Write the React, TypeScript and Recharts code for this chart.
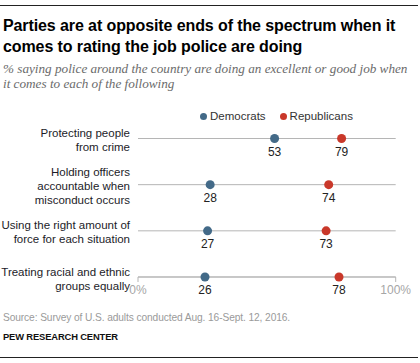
import { ScatterChart, Scatter, XAxis, YAxis, CartesianGrid, Legend } from "recharts";

const categories: string[][] = [
  ["Protecting people", "from crime"],
  ["Holding officers", "accountable when", "misconduct occurs"],
  ["Using the right amount of", "force for each situation"],
  ["Treating racial and ethnic", "groups equally"],
];
const democrats = [53, 28, 27, 26];
const republicans = [79, 74, 73, 78];
const xTicks = [0, 100];

const DEM_COLOR = "#436a88";
const REP_COLOR = "#c9382a";
const SANS = "'Liberation Sans', Arial, sans-serif";

const demData = democrats.map((value, row) => ({ row, value }));
const repData = republicans.map((value, row) => ({ row, value }));

function Dot(props: any) {
  const { cx, cy, fill, payload } = props;
  return (
    <g>
      <circle cx={cx} cy={cy} r={4.5} fill={fill} />
      <text x={cx} y={cy + 17} textAnchor="middle" fontSize={12} fill="#222" fontFamily={SANS}>
        {payload.value}
      </text>
    </g>
  );
}

function CategoryTick(props: any) {
  const { y, payload } = props;
  const lines = categories[payload.value] ?? [];
  const first = y - (lines.length - 1) * 7 + 5.5;
  return (
    <text x={130} y={first} textAnchor="end" fontSize={11.5} fill="#1c1c28" fontFamily={SANS}>
      {lines.map((l, i) => (
        <tspan key={i} x={130} y={first + i * 14}>
          {l}
        </tspan>
      ))}
    </text>
  );
}

function LegendContent(props: any) {
  const items = props.payload ?? [];
  return (
    <div style={{ display: "flex", fontFamily: SANS, fontSize: 11.5, color: "#333", lineHeight: "14px" }}>
      {items.map((it: any, i: number) => (
        <div key={i} style={{ display: "flex", alignItems: "center", marginRight: 14 }}>
          <span
            style={{ width: 7, height: 7, borderRadius: "50%", background: it.color, display: "inline-block", marginRight: 3 }}
          />
          {it.value}
        </div>
      ))}
    </div>
  );
}

export default function App() {
  return (
    <div style={{ position: "relative", width: 420, height: 363, background: "#fff", overflow: "hidden" }}>
      <style>{`body{margin:0}`}</style>
      <div style={{ position: "absolute", left: 0, top: 5, width: 418, height: 1, background: "#222" }} />
      <div
        style={{
          position: "absolute",
          left: 3,
          top: 15,
          fontFamily: SANS,
          fontWeight: "bold",
          fontSize: 16,
          lineHeight: "21px",
          letterSpacing: -0.1,
          color: "#000",
          whiteSpace: "nowrap",
        }}
      >
        <div>Parties are at opposite ends of the spectrum when it</div>
        <div>comes to rating the job police are doing</div>
      </div>
      <div
        style={{
          position: "absolute",
          left: 3,
          top: 62,
          fontFamily: "'Liberation Serif', serif",
          fontStyle: "italic",
          fontSize: 13.2,
          lineHeight: "14.5px",
          color: "#6b6b6b",
          whiteSpace: "nowrap",
        }}
      >
        <div>% saying police around the country are doing an excellent or good job when</div>
        <div>it comes to each of the following</div>
      </div>
      <div style={{ position: "absolute", left: 0, top: 0 }}>
        <ScatterChart width={420} height={363} margin={{ top: 138.5, right: 24.3, bottom: 56, left: 0 }}>
          <CartesianGrid vertical={false} stroke="#b5b5b5" />
          <XAxis
            type="number"
            dataKey="value"
            domain={[0, 100]}
            ticks={xTicks}
            tickFormatter={(v) => `${v}%`}
            stroke="#b5b5b5"
            tick={{ fill: "#a6a6a6", fontSize: 12, fontFamily: SANS }}
            tickSize={5}
            tickMargin={3}
            height={30}
          />
          <YAxis
            type="number"
            dataKey="row"
            domain={[0, 3]}
            ticks={[0, 1, 2, 3]}
            interval={0}
            reversed
            axisLine={false}
            tickLine={false}
            width={138}
            tick={<CategoryTick />}
          />
          <Legend
            verticalAlign="middle"
            align="center"
            content={<LegendContent />}
            wrapperStyle={{ top: 109, left: 200, width: "auto" }}
          />
          <Scatter name="Democrats" data={demData} fill={DEM_COLOR} shape={<Dot />} isAnimationActive={false} />
          <Scatter name="Republicans" data={repData} fill={REP_COLOR} shape={<Dot />} isAnimationActive={false} />
        </ScatterChart>
      </div>
      <div
        style={{
          position: "absolute",
          left: 3,
          top: 312,
          fontFamily: SANS,
          fontSize: 10.2,
          letterSpacing: -0.1,
          color: "#9a9a9a",
          whiteSpace: "nowrap",
        }}
      >
        Source: Survey of U.S. adults conducted Aug. 16-Sept. 12, 2016.
      </div>
      <div
        style={{
          position: "absolute",
          left: 3,
          top: 331,
          fontFamily: SANS,
          fontSize: 9.4,
          fontWeight: "bold",
          letterSpacing: -0.15,
          color: "#111",
          whiteSpace: "nowrap",
        }}
      >
        PEW RESEARCH CENTER
      </div>
      <div style={{ position: "absolute", left: 0, top: 357, width: 418, height: 1, background: "#222" }} />
    </div>
  );
}
